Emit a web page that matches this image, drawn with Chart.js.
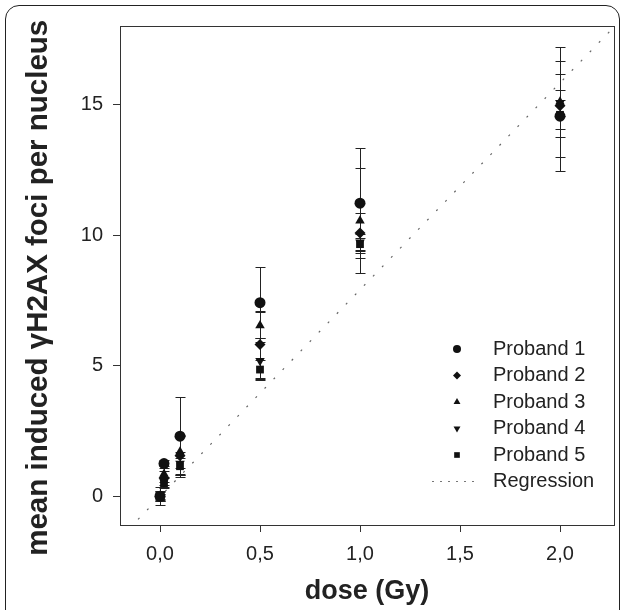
<!DOCTYPE html>
<html>
<head>
<meta charset="utf-8">
<script src="https://cdn.jsdelivr.net/npm/chart.js@4.4.1/dist/chart.umd.min.js"></script>
<style>
  body { margin: 0; background: #fff; }
  .frame { position: absolute; left: 5px; top: 5px; width: 613px; height: 640px; border: 1.5px solid #222; border-radius: 14px; }
  #myChartFoci { position: absolute; left: 0; top: 0; }
</style>
</head>
<body>
<div class="frame"></div>
<canvas id="myChartFoci" width="624" height="610"></canvas>
<script>
const ctxFoci = document.getElementById('myChartFoci')

// dose (Gy)
const doses = [0, 0.02, 0.1, 0.5, 1.0, 2.0]

// mean induced foci per nucleus, with error (SD)
const proband1 = [0, 1.25, 2.3, 7.41, 11.22, 14.55]
const proband1Err = [0.35, 0.15, 1.5, 1.35, 2.1, 2.1]
const proband2 = [0, 0.7, 1.55, 5.81, 10.08, 14.95]
const proband2Err = [0.2, 0.25, 0.8, 1.3, 0.77, 1.2]
const proband3 = [0, 0.85, 1.7, 6.54, 10.55, 15.1]
const proband3Err = [0.2, 0.3, 0.6, 0.5, 2.0, 2.1]
const proband4 = [0, 0.55, 1.25, 5.19, 9.72, 15.05]
const proband4Err = [0.15, 0.2, 0.45, 0.73, 0.3, 0.5]
const proband5 = [0, 0.5, 1.15, 4.85, 9.65, 14.6]
const proband5Err = [0.1, 0.2, 0.3, 0.35, 0.25, 0.55]

const probandLabels = ['Proband 1', 'Proband 2', 'Proband 3', 'Proband 4', 'Proband 5']
const probandStyles = ['circle', 'rectRot', 'triangle', 'triangle', 'rect']
const probandRotations = [0, 0, 0, 180, 0]

// regression line end points
const regressionDose = [-0.2, 2.3]
const regressionFoci = [-1.6, 18.2]

const xTicks = [0, 0.5, 1, 1.5, 2]
const yTicks = [0, 5, 10, 15]

const fontFamily = '"Liberation Sans", Arial, sans-serif'

const probandValues = [proband1, proband2, proband3, proband4, proband5]
const probandErrors = [proband1Err, proband2Err, proband3Err, proband4Err, proband5Err]

let datasets = []
for (let i = 0; i < probandValues.length; i++) {
  datasets.push({
    label: probandLabels[i],
    data: doses.map((d, j) => ({ x: d, y: probandValues[i][j] })),
    errors: probandErrors[i],
    pointStyle: probandStyles[i],
    pointRotation: probandRotations[i],
    pointRadius: 5.5,
    pointBackgroundColor: '#111',
    pointBorderColor: '#111',
    pointBorderWidth: 0
  })
}
datasets.push({
  type: 'line',
  label: 'Regression',
  isRegression: true,
  data: regressionDose.map((d, j) => ({ x: d, y: regressionFoci[j] })),
  borderColor: '#666',
  borderWidth: 1.2,
  borderDash: [2, 11],
  pointRadius: 0,
  fill: false
})

// error bars drawn under the markers
const errorBars = {
  id: 'errorBars',
  beforeDatasetsDraw(chart) {
    const { ctx, scales: { x, y } } = chart
    ctx.save()
    ctx.strokeStyle = '#222'
    ctx.lineWidth = 1
    chart.data.datasets.forEach((ds) => {
      if (!ds.errors) return
      ds.data.forEach((p, j) => {
        const px = Math.round(x.getPixelForValue(p.x)) + 0.5
        const top = Math.round(y.getPixelForValue(p.y + ds.errors[j])) + 0.5
        const bot = Math.round(y.getPixelForValue(p.y - ds.errors[j])) + 0.5
        ctx.beginPath()
        ctx.moveTo(px, top)
        ctx.lineTo(px, bot)
        ctx.moveTo(px - 5, top)
        ctx.lineTo(px + 5, top)
        ctx.moveTo(px - 5, bot)
        ctx.lineTo(px + 5, bot)
        ctx.stroke()
      })
    })
    ctx.restore()
  }
}

// box round the plot area
const plotBox = {
  id: 'plotBox',
  afterDraw(chart) {
    const { ctx, chartArea: a } = chart
    ctx.save()
    ctx.strokeStyle = '#333'
    ctx.lineWidth = 1
    ctx.strokeRect(Math.round(a.left) + 0.5, Math.round(a.top) + 0.5, Math.round(a.right - a.left), Math.round(a.bottom - a.top))
    ctx.restore()
  }
}

// legend inside the plot, bottom right
const legendInside = {
  id: 'legendInside',
  afterDatasetsDraw(chart) {
    const { ctx } = chart
    ctx.save()
    ctx.font = '20px ' + fontFamily
    ctx.textBaseline = 'middle'
    chart.data.datasets.forEach((ds, i) => {
      const yy = 349 + i * 26.5
      if (ds.isRegression) {
        ctx.strokeStyle = '#777'
        ctx.lineWidth = 1.2
        ctx.setLineDash([2, 6])
        ctx.beginPath()
        ctx.moveTo(432, yy)
        ctx.lineTo(475, yy)
        ctx.stroke()
        ctx.setLineDash([])
      } else {
        ctx.fillStyle = '#111'
        Chart.helpers.drawPoint(ctx, {
          pointStyle: ds.pointStyle,
          rotation: ds.pointRotation,
          radius: 4,
          borderWidth: 0
        }, 457, yy)
      }
      ctx.fillStyle = '#222'
      ctx.fillText(ds.label, 493, yy)
    })
    ctx.restore()
  }
}

new Chart(ctxFoci, {
  type: 'scatter',
  data: { datasets: datasets },
  plugins: [errorBars, plotBox, legendInside],
  options: {
    responsive: false,
    animation: false,
    events: [],
    layout: { padding: { left: 0, right: 10, top: 26, bottom: 0 } },
    plugins: {
      legend: { display: false },
      tooltip: { enabled: false }
    },
    scales: {
      x: {
        type: 'linear',
        min: -0.2,
        max: 2.27,
        afterBuildTicks: (s) => { s.ticks = xTicks.map(v => ({ value: v })) },
        afterFit: (s) => { s.height = 85 },
        grid: { drawOnChartArea: false, drawTicks: true, tickLength: 7, color: '#333' },
        border: { color: '#333', width: 1 },
        ticks: {
          color: '#222',
          padding: 10,
          font: { size: 20, family: fontFamily },
          callback: (v) => Number(v).toFixed(1).replace('.', ',')
        },
        title: {
          display: true,
          text: 'dose (Gy)',
          color: '#222',
          font: { size: 27, weight: 'bold', family: fontFamily },
          padding: { top: 0, bottom: 2 }
        }
      },
      y: {
        type: 'linear',
        min: -1.1,
        max: 18,
        afterBuildTicks: (s) => { s.ticks = yTicks.map(v => ({ value: v })) },
        afterFit: (s) => { s.width = 120 },
        grid: { drawOnChartArea: false, drawTicks: true, tickLength: 7, color: '#333' },
        border: { color: '#333', width: 1 },
        ticks: {
          color: '#222',
          padding: 10,
          font: { size: 20, family: fontFamily },
          callback: (v) => v
        },
        title: {
          display: true,
          // trailing spaces push the centred text a little down, as in the original
          text: 'mean induced γH2AX foci per nucleus   ',
          color: '#222',
          font: { size: 29.5, weight: 'bold', family: fontFamily },
          padding: { top: 21, bottom: 0 }
        }
      }
    }
  }
})
</script>
</body>
</html>
